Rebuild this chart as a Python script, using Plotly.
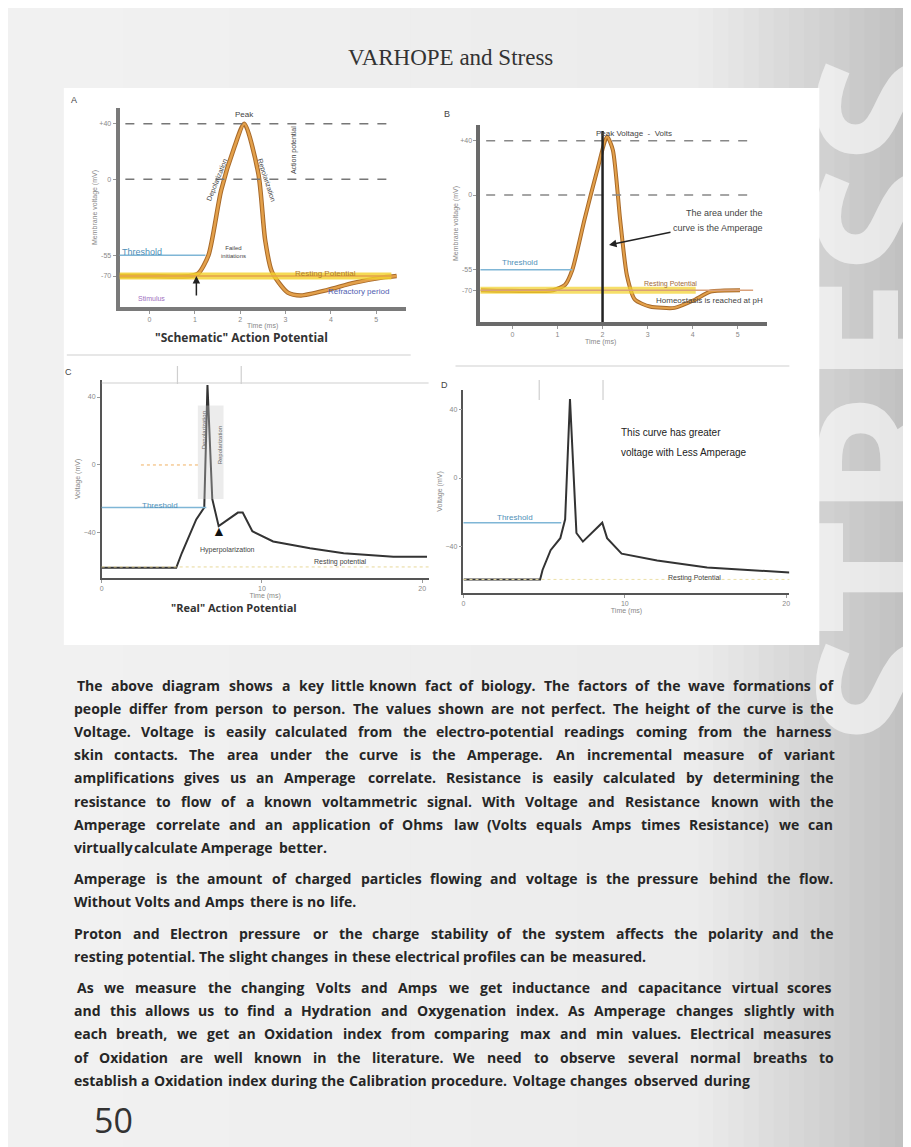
import plotly.graph_objects as go

# the page body has an 8px margin, so the figure is shifted by that much
OX, OY = 8, 8
W, H = 911 - OX, 1147 - OY


def fx(x):
    return (x - OX) / W


def fy(y):
    return 1 - (y - OY) / H


# ---- data -------------------------------------------------------------
# A: "schematic" action potential (ms, mV)
a_time = [-0.66, 0.0, 0.9, 1.08, 1.3, 1.58, 1.87, 2.09, 2.4, 2.55, 2.7, 3.05, 3.34, 3.93, 4.5, 5.16, 5.45]
a_volt = [-70, -70, -70, -68, -55, -8, 23, 40, 4, -44, -67, -82, -84, -80, -75, -71, -70]

# B: same curve, narrower spike
b_time = [-0.7, 0.9, 1.17, 1.33, 1.6, 1.88, 2.1, 2.23, 2.39, 2.54, 2.72, 3.05, 3.6, 4.05, 4.4, 5.05]
b_volt = [-70, -70, -66, -55, -18, 18, 43, 33, -18, -59, -77, -82, -83, -77, -71, -70]

# C: "real" action potential
c_time = [0, 4.65, 5.0, 5.9, 6.4, 6.6, 6.9, 7.3, 8.5, 8.8, 9.4, 10.7, 13.0, 15.1, 18.2, 20.3]
c_volt = [-60.5, -60.5, -51.8, -32, -25, 47, -20, -36, -28, -28, -39, -45, -49, -52, -54, -54]

# D: greater voltage, less amperage
d_time = [0, 4.75, 4.9, 5.4, 6.0, 6.3, 6.6, 6.8, 7.0, 7.4, 8.6, 8.9, 9.8, 12.0, 15.1, 20.2]
d_volt = [-59, -59, -53.5, -42, -35, -24, 46, 10, -32, -37, -26, -35, -44, -48, -52, -55]

a_ticks = [0, 1, 2, 3, 4, 5]
a_yticks = [40, 0, -55, -70]
a_ylabels = ["+40", "0", "-55", "-70"]
cd_xticks = [0, 10, 20]
cd_yticks = [40, 0, -40]

title = "VARHOPE and Stress"
# paragraphs, one list of lines each (last line of a paragraph is not justified)
paragraphs = [
    [" The above diagram shows a key little known fact of biology. The factors of the wave formations of",
     "people differ from person to person. The values shown are not perfect. The height of the curve is the",
     "Voltage. Voltage is easily calculated from the electro-potential readings coming from the harness",
     "skin contacts. The area under the curve is the Amperage. An incremental measure of variant",
     "amplifications gives us an Amperage correlate. Resistance is easily calculated by determining the",
     "resistance to flow of a known voltammetric signal. With Voltage and Resistance known with the",
     "Amperage correlate and an application of Ohms law (Volts equals Amps times Resistance) we can",
     "virtually calculate Amperage better."],
    ["Amperage is the amount of charged particles flowing and voltage is the pressure behind the flow.",
     "Without Volts and Amps there is no life."],
    ["Proton and Electron pressure or the charge stability of the system affects the polarity and the",
     "resting potential. The slight changes in these electrical profiles can be measured."],
    [" As we measure the changing Volts and Amps we get inductance and capacitance virtual scores",
     "and this allows us to find a Hydration and Oxygenation index. As Amperage changes slightly with",
     "each breath, we get an Oxidation index from comparing max and min values. Electrical measures",
     "of Oxidation are well known in the literature. We need to observe several normal breaths to",
     "establish a Oxidation index during the Calibration procedure. Voltage changes observed during"],
]

ORANGE = "#e3a04a"
BLUE = "#7fb6d6"
YELLOW = "#f3d22a"

fig = go.Figure()

# curves
fig.add_trace(go.Scatter(x=a_time, y=a_volt, xaxis="x", yaxis="y", mode="lines",
                         line=dict(color="#a86a2a", width=4.5, shape="spline", smoothing=0.7)))
fig.add_trace(go.Scatter(x=a_time, y=a_volt, xaxis="x", yaxis="y", mode="lines",
                         line=dict(color=ORANGE, width=2.5, shape="spline", smoothing=0.7)))
fig.add_trace(go.Scatter(x=b_time, y=b_volt, xaxis="x2", yaxis="y2", mode="lines",
                         line=dict(color="#a86a2a", width=4, shape="spline", smoothing=0.6)))
fig.add_trace(go.Scatter(x=b_time, y=b_volt, xaxis="x2", yaxis="y2", mode="lines",
                         line=dict(color=ORANGE, width=2, shape="spline", smoothing=0.6)))
fig.add_trace(go.Scatter(x=c_time, y=c_volt, xaxis="x3", yaxis="y3", mode="lines",
                         line=dict(color="#333333", width=2)))
fig.add_trace(go.Scatter(x=d_time, y=d_volt, xaxis="x4", yaxis="y4", mode="lines",
                         line=dict(color="#333333", width=2)))

small = dict(size=7, color="#888888", family="Liberation Sans")


def xax(d0, d1, rng, ticks, anchor, lw, lc, ttl):
    return dict(domain=[fx(d0), fx(d1)], range=rng, anchor=anchor, showline=True,
                linewidth=lw, linecolor=lc, showgrid=False, zeroline=False,
                ticks="outside", ticklen=3, tickcolor="#999", tickvals=ticks,
                tickfont=small, title=dict(text=ttl, font=small, standoff=2))


def yax(p0, p1, rng, ticks, labels, anchor, lw, lc, ttl):
    return dict(domain=[fy(p0), fy(p1)], range=rng, anchor=anchor, showline=True,
                linewidth=lw, linecolor=lc, showgrid=False, zeroline=False,
                ticks="outside", ticklen=3, tickcolor="#999", tickvals=ticks,
                ticktext=labels, tickfont=small, title=dict(text=ttl, font=small, standoff=2))


# page background: grey gradient strips
shapes = []
n = 60
for i in range(n):
    x0 = i * 911 / n
    x1 = (i + 1) * 911 / n + 1
    xc = (x0 + x1) / 2
    if xc < 700:
        v = 242 - 6 * xc / 700
    else:
        v = 236 - 44 * (xc - 700) / 211
    v = int(v)
    shapes.append(dict(type="rect", xref="paper", yref="paper", x0=fx(x0), x1=fx(x1),
                       y0=0, y1=1, fillcolor=f"rgb({v},{v},{v})", line_width=0, layer="below"))
# white figure panel
shapes.append(dict(type="rect", xref="paper", yref="paper", x0=fx(62), x1=fx(820),
                   y0=fy(645), y1=fy(88), fillcolor="white", line_width=0, layer="below"))

# A reference lines
for yv in [40, 0]:
    shapes.append(dict(type="line", xref="x domain", yref="y", x0=0.02, x1=0.95, y0=yv, y1=yv,
                       line=dict(color="#777", width=1.5, dash="dash")))
shapes.append(dict(type="line", xref="x domain", yref="y", x0=0, x1=0.95, y0=-70, y1=-70,
                   line=dict(color=YELLOW, width=7), opacity=0.8))
shapes.append(dict(type="line", xref="x domain", yref="y", x0=0, x1=0.95, y0=-70, y1=-70,
                   line=dict(color=ORANGE, width=1.5)))
shapes.append(dict(type="line", xref="x domain", yref="y", x0=0, x1=0.3, y0=-55, y1=-55,
                   line=dict(color=BLUE, width=1.5)))
# B reference lines
for yv in [40, 0]:
    shapes.append(dict(type="line", xref="x2 domain", yref="y2", x0=0.02, x1=0.95, y0=yv, y1=yv,
                       line=dict(color="#888", width=1.5, dash="dash")))
shapes.append(dict(type="line", xref="x2 domain", yref="y2", x0=0, x1=0.75, y0=-70, y1=-70,
                   line=dict(color=YELLOW, width=7), opacity=0.7))
shapes.append(dict(type="line", xref="x2 domain", yref="y2", x0=0, x1=0.95, y0=-70, y1=-70,
                   line=dict(color="#d9a07a", width=1.5)))
shapes.append(dict(type="line", xref="x2 domain", yref="y2", x0=0, x1=0.32, y0=-55, y1=-55,
                   line=dict(color=BLUE, width=1.5)))
shapes.append(dict(type="line", xref="x2", yref="y2 domain", x0=2, x1=2, y0=0, y1=0.97,
                   line=dict(color="#222", width=2.5)))
# C reference lines
shapes.append(dict(type="line", xref="x3 domain", yref="y3", x0=0, x1=0.32, y0=-25, y1=-25,
                   line=dict(color=BLUE, width=1.5)))
shapes.append(dict(type="line", xref="x3 domain", yref="y3", x0=0.12, x1=0.3, y0=0, y1=0,
                   line=dict(color="#f0b060", width=1, dash="dot")))
shapes.append(dict(type="line", xref="x3 domain", yref="y3", x0=0, x1=1, y0=-60, y1=-60,
                   line=dict(color="#e8d89a", width=1, dash="dot")))
shapes.append(dict(type="rect", xref="x3", yref="y3", x0=6.0, x1=7.6, y0=-20, y1=35,
                   fillcolor="rgba(200,200,200,0.35)", line_width=0))
# D reference lines
shapes.append(dict(type="line", xref="x4 domain", yref="y4", x0=0, x1=0.3, y0=-26, y1=-26,
                   line=dict(color=BLUE, width=1.5)))
shapes.append(dict(type="line", xref="x4 domain", yref="y4", x0=0, x1=1, y0=-59, y1=-59,
                   line=dict(color="#ece0a8", width=1, dash="dot")))

# thin rules / small markers in the figure panel
for (x0, y0, x1, y1) in [(65, 355, 410, 355), (100, 383, 428, 383), (455, 366, 790, 366),
                         (176, 366, 176, 384), (240, 366, 240, 384),
                         (539, 380, 539, 400), (603, 380, 603, 400)]:
    shapes.append(dict(type="line", xref="paper", yref="paper", x0=fx(x0), y0=fy(y0),
                       x1=fx(x1), y1=fy(y1), line=dict(color="#cfcfcf", width=1.2)))

ann = []


def note(x, y, text, size=8, color="#444", angle=0, anchor="center", family="Liberation Sans",
         weight="normal"):
    ann.append(dict(x=fx(x), y=fy(y), xref="paper", yref="paper", text=text, showarrow=False,
                    textangle=angle, xanchor=anchor, yanchor="middle", borderpad=0,
                    font=dict(size=size, color=color, family=family, weight=weight)))


def arrow(x, y, ax, ay, color="#222"):
    ann.append(dict(x=fx(x), y=fy(y), ax=ax - x, ay=ay - y, xref="paper", yref="paper",
                    text="", showarrow=True, arrowhead=2, arrowsize=1,
                    arrowwidth=1.5, arrowcolor=color))


# big pale letters bleeding off the right edge of the page
ann.append(dict(x=fx(1022), y=fy(400), xref="paper", yref="paper", text="<b>STRESS</b>",
                showarrow=False, textangle=-90,
                font=dict(size=200, color="rgba(255,255,255,0.6)", family="Open Sans")))

# title
note(450, 58, title, size=23, color="#333", family="Liberation Serif")

# panel letters
note(72, 100, "A", 9)
note(446, 114, "B", 9)
note(67, 372, "C", 9)
note(444, 385, "D", 9)

# panel A labels
note(243, 115, "Peak", 8)
note(293, 150, "Action potential", 7, angle=-90)
note(216, 180, "Depolarization", 7, angle=-68)
note(265, 180, "Repolarization", 7, angle=72)
note(140, 252, "Threshold", 9, color="#4f8fb8")
note(232, 252, "Failed<br>initiations", 6)
note(325, 273, "Resting Potential", 8, color="#b07a2a")
note(358, 292, "Refractory period", 8, color="#5060b0")
note(150, 298, "Stimulus", 7, color="#a070c0")
arrow(195, 276, 195, 297)
note(240, 338, "\"Schematic\" Action Potential", 12, color="#333", family="Open Sans", weight="bold")

# panel B labels
note(595, 133, "Peak Voltage  -  Volts", 8, anchor="left")
note(520, 262, "Threshold", 8, color="#4f8fb8")
note(685, 213, "The area under the", 9, anchor="left")
note(672, 228, "curve is the Amperage", 9, anchor="left")
arrow(609, 245, 672, 232)
note(643, 284, "Resting Potential", 7, color="#a06a3a", anchor="left")
note(655, 300, "Homeostasis is reached at pH", 8, anchor="left")
note(600, 342, "Time (ms)", 7, color="#888")

# panel C labels
note(158, 505, "Threshold", 8, color="#4f8fb8")
note(203, 430, "Depolarization", 6, color="#666", angle=-90)
note(219, 445, "Repolarization", 6, color="#666", angle=-90)
note(226, 550, "Hyperpolarization", 7)
note(340, 562, "Resting potential", 7)
note(218, 531, "▲", 14, color="#111")
note(233, 607, "\"Real\" Action Potential", 11, color="#333", family="Open Sans", weight="bold")

# panel D labels
note(620, 432, "This curve has greater", 10, color="#222", anchor="left")
note(620, 452, "voltage with Less Amperage", 10, color="#222", anchor="left")
note(515, 518, "Threshold", 8, color="#4f8fb8")
note(695, 578, "Resting Potential", 7)

# ---- body text, justified word by word ---------------------------------
FS = 14
CW = {" ": .26, ".": .27, ",": .27, "-": .33, "(": .32, ")": .32, "'": .24}
CW.update(dict(zip("abcdefghijklmnopqrstuvwxyz",
                   [.56, .61, .48, .61, .56, .34, .55, .61, .25, .25, .53, .25, .93, .61, .6, .61,
                    .61, .41, .48, .35, .61, .5, .79, .52, .5, .47])))
CW.update(dict(zip("ABCDEFGHIJKLMNOPQRSTUVWXYZ",
                   [.63, .65, .63, .73, .56, .51, .73, .74, .28, .27, .62, .52, .91, .76, .78, .6,
                    .78, .62, .55, .55, .73, .6, .93, .58, .56, .56])))
BOLD = 1.10


def tw(s):
    return sum(CW.get(ch, .55) for ch in s) * FS * BOLD


LEFT, RIGHT = 71, 833
SPACE = 0.26 * FS
y = 685
for para in paragraphs:
    for j, line in enumerate(para):
        indent = SPACE if line.startswith(" ") else 0
        words = line.split()
        widths = [tw(w_) for w_ in words]
        last = j == len(para) - 1
        if last or len(words) < 2:
            gap = SPACE * 1.1
        else:
            gap = (RIGHT - LEFT - indent - sum(widths)) / (len(words) - 1)
        x = LEFT + indent
        for w_, wd in zip(words, widths):
            note(x, y, w_, size=FS, color="#262626", anchor="left", family="Open Sans",
                 weight="bold")
            x += wd + gap
        y += 23.2
    y += 8

note(112, 1120, "50", size=34, color="#333", family="Open Sans")

fig.update_layout(
    width=W, height=H, margin=dict(l=0, r=0, t=0, b=0),
    paper_bgcolor="#efefef", plot_bgcolor="rgba(0,0,0,0)", showlegend=False,
    xaxis=xax(118, 405, [-0.66, 5.65], a_ticks, "y", 4, "#7a7a7a", "Time (ms)"),
    yaxis=yax(307, 108, [-92.4, 51.4], a_yticks, a_ylabels, "x", 4, "#7a7a7a",
              "Membrane voltage (mV)"),
    xaxis2=xax(480, 768, [-0.71, 5.66], a_ticks, "y2", 4, "#6a6a6a", ""),
    yaxis2=yax(322, 125, [-93.4, 51.5], a_yticks, a_ylabels, "x2", 4, "#6a6a6a",
               "Membrane voltage (mV)"),
    xaxis3=xax(100, 428, [0, 20.4], cd_xticks, "y3", 1.5, "#555", "Time (ms)"),
    yaxis3=yax(578, 380, [-66.5, 50], cd_yticks, None, "x3", 1.5, "#555", "Voltage (mV)"),
    xaxis4=xax(463, 790, [0, 20.2], cd_xticks, "y4", 1.5, "#555", "Time (ms)"),
    yaxis4=yax(593, 390, [-66.9, 51.2], cd_yticks, None, "x4", 1.5, "#555", "Voltage (mV)"),
    shapes=shapes,
    annotations=ann,
)

fig.write_html("out.html")
